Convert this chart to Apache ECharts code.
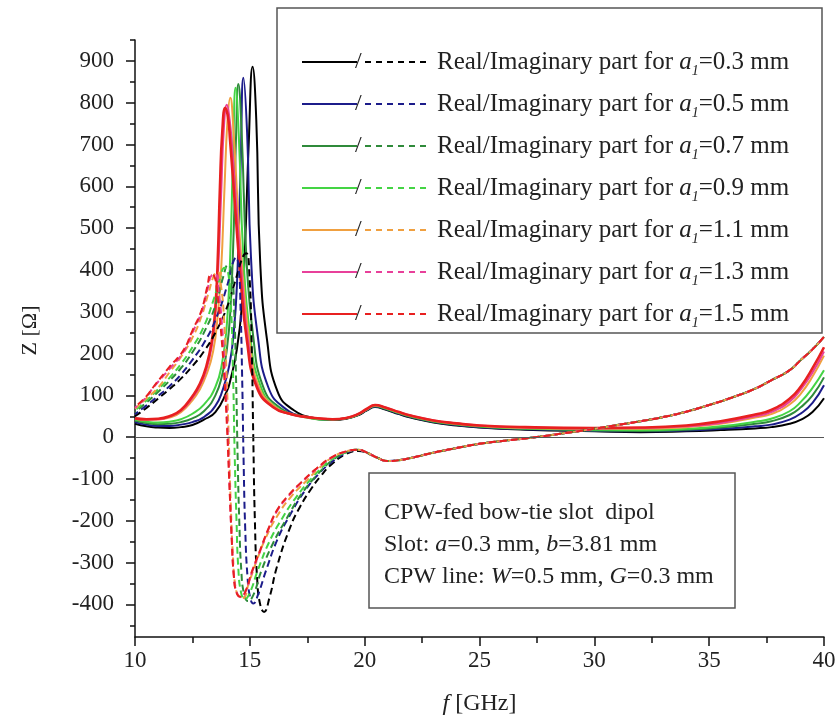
<!DOCTYPE html>
<html>
<head>
<meta charset="utf-8">
<script src="https://cdn.jsdelivr.net/npm/echarts@6/dist/echarts.min.js"></script>
<style>html,body{margin:0;padding:0;background:#fff}#c{width:840px;height:724px}</style>
</head>
<body>
<div id="c"></div>
<script>
// ---------- data ----------
const labels = ['0.3', '0.5', '0.7', '0.9', '1.1', '1.3', '1.5'];
const colors = ['#000000', '#1c1c8a', '#2f8a3a', '#44d444', '#f0a040', '#e8409a', '#e82020'];
const xTicks = [10, 15, 20, 25, 30, 35, 40];
const yTicks = [-400, -300, -200, -100, 0, 100, 200, 300, 400, 500, 600, 700, 800, 900];
const yMinorTicks = [-450, -350, -250, -150, -50, 50, 150, 250, 350, 450, 550, 650, 750, 850, 950];

// Real parts [f GHz, Z Ohm]
const re03 = [[10,32],[10.5,26],[11,23],[11.5,22],[12,24],[12.5,29],[13,42],[13.5,60],[14,110],[14.15,136],[14.43,208],[14.65,311],[14.8,470],[14.95,700],[15.12,886],[15.28,760],[15.45,420],[15.75,232],[16.2,110],[16.9,65],[17.9,45],[18.6,41],[19.2,44],[19.7,52],[20.1,64],[20.45,72],[20.9,66],[21.5,55],[22,47],[23,35],[24,28],[25,23],[27,18],[30,14],[32,12],[34,14],[35.5,17],[37,21],[37.7,24],[38.5,32],[39,42],[39.5,60],[40,93]];
const re05 = [[10,36],[10.5,30],[11,27],[11.5,27],[12,30],[12.5,36],[13,48],[13.5,75],[13.8,110],[14.1,170],[14.3,250],[14.45,380],[14.6,650],[14.72,860],[14.88,730],[15.05,430],[15.35,240],[15.8,120],[16.5,70],[17.5,48],[18.6,42],[19.2,45],[19.7,53],[20.1,65],[20.45,73],[20.9,67],[21.5,56],[22,48],[23,36],[24,29],[25,24],[27,19],[30,15],[32,14],[34,16],[35.5,20],[37,26],[37.7,30],[38.5,42],[39,57],[39.5,82],[40,124]];
const re07 = [[10,40],[10.5,34],[11,31],[11.5,32],[12,36],[12.5,45],[13,62],[13.5,100],[13.8,150],[14,210],[14.15,300],[14.3,500],[14.4,720],[14.5,845],[14.65,720],[14.85,430],[15.15,240],[15.55,125],[16.2,75],[17.3,50],[18.6,42],[19.2,45],[19.7,53],[20.1,66],[20.45,74],[20.9,68],[21.5,57],[22,49],[23,37],[24,30],[25,25],[27,20],[30,16],[32,15],[34,18],[35.5,23],[37,32],[37.7,38],[38.5,53],[39,72],[39.5,100],[40,143]];
const re09 = [[10,42],[10.5,37],[11,35],[11.5,37],[12,43],[12.5,56],[13,78],[13.5,120],[13.8,180],[14,270],[14.15,440],[14.28,700],[14.38,836],[14.52,720],[14.72,430],[15.02,240],[15.45,125],[16.1,74],[17.3,49],[18.6,42],[19.2,45],[19.7,54],[20.1,66],[20.45,75],[20.9,69],[21.5,58],[22,50],[23,38],[24,31],[25,26],[27,21],[30,18],[32,17],[34,20],[35.5,26],[37,37],[37.7,44],[38.5,62],[39,85],[39.5,118],[40,160]];
const re11 = [[10,44],[10.5,41],[11,42],[11.5,47],[12,60],[12.5,88],[12.8,112],[13.1,148],[13.4,205],[13.6,290],[13.75,400],[13.9,600],[14.03,760],[14.15,812],[14.28,740],[14.5,530],[14.72,370],[15,225],[15.4,120],[16.1,72],[16.8,55],[17.5,48],[18.6,43],[19.2,46],[19.7,54],[20.1,67],[20.45,76],[20.9,70],[21.5,59],[22,51],[23,39],[24,32],[25,27],[27,22],[30,20],[32,20],[34,24],[35.5,32],[37,47],[37.7,55],[38.5,78],[39,105],[39.5,145],[40,195]];
const re13 = [[10,45],[10.5,42],[11,43],[11.5,49],[12,63],[12.5,94],[12.8,120],[13.1,160],[13.35,220],[13.5,295],[13.62,400],[13.75,580],[13.87,740],[14,795],[14.12,760],[14.22,700],[14.43,540],[14.65,385],[14.93,228],[15.35,118],[16.05,71],[16.8,55],[17.5,48],[18.6,43],[19.2,46],[19.7,55],[20.1,67],[20.45,77],[20.9,71],[21.5,60],[22,52],[23,40],[24,33],[25,28],[27,23],[30,21],[32,22],[34,26],[35.5,34],[37,50],[37.7,60],[38.5,85],[39,115],[39.5,155],[40,205]];
const re15 = [[10,45],[10.5,43],[11,44],[11.5,50],[12,65],[12.5,98],[12.8,125],[13.1,168],[13.35,232],[13.5,311],[13.6,420],[13.7,600],[13.8,730],[13.93,788],[14.05,765],[14.14,710],[14.36,550],[14.58,392],[14.87,232],[15.3,120],[16,72],[16.8,55],[17.5,48],[18.6,43],[19.2,46],[19.7,55],[20.1,68],[20.45,77],[20.9,71],[21.5,60],[22,52],[23,40],[24,33],[25,28],[27,24],[30,22],[32,23],[34,28],[35.5,38],[37,54],[37.7,65],[38.5,92],[39,122],[39.5,165],[40,215]];

// Imaginary parts, resonance region [f GHz, Z Ohm]
const im03 = [[10,50],[10.5,70],[11,92],[11.5,115],[12,140],[12.5,170],[13,205],[13.5,250],[14,310],[14.4,380],[14.7,432],[14.85,440],[14.98,390],[15.08,220],[15.15,0],[15.22,-200],[15.32,-340],[15.45,-400],[15.62,-418],[15.85,-385],[16.18,-310],[16.76,-215],[17.2,-165],[17.63,-127],[18.1,-92],[18.6,-63],[19.2,-40],[19.75,-33],[20.1,-38],[20.5,-48]];
const im05 = [[10,55],[10.5,76],[11,98],[11.5,122],[12,150],[12.5,185],[13,225],[13.5,280],[14,360],[14.25,415],[14.4,430],[14.52,400],[14.6,300],[14.67,130],[14.73,-60],[14.8,-220],[14.9,-335],[15.02,-385],[15.15,-398],[15.35,-378],[15.7,-320],[16.2,-245],[16.76,-185],[17.4,-128],[18,-88],[18.6,-58],[19.2,-38],[19.7,-31],[20.1,-37],[20.5,-48]];
const im07 = [[10,60],[10.5,83],[11,108],[11.5,135],[12,165],[12.5,203],[13,250],[13.5,315],[13.85,385],[14.05,412],[14.2,400],[14.32,300],[14.4,140],[14.47,-50],[14.54,-200],[14.63,-320],[14.75,-375],[14.92,-392],[15.15,-378],[15.5,-320],[16,-255],[16.6,-195],[17.2,-140],[17.9,-92],[18.6,-55],[19.2,-36],[19.7,-30],[20.1,-37],[20.5,-48]];
const im09 = [[10,64],[10.5,88],[11,114],[11.5,142],[12,175],[12.5,215],[13,265],[13.4,325],[13.7,380],[13.9,405],[14.05,395],[14.18,310],[14.27,150],[14.34,-40],[14.42,-200],[14.5,-315],[14.62,-372],[14.78,-388],[15,-372],[15.35,-318],[15.85,-250],[16.4,-195],[17,-145],[17.7,-98],[18.5,-56],[19.2,-36],[19.7,-30],[20.1,-37],[20.5,-48]];
const im11 = [[10,68],[10.5,93],[11,118],[11.5,155],[12,192],[12.5,238],[12.9,290],[13.2,345],[13.45,388],[13.6,395],[13.75,360],[13.88,280],[13.98,160],[14.08,0],[14.17,-160],[14.27,-290],[14.38,-360],[14.52,-380],[14.7,-385],[14.95,-350],[15.3,-295],[15.7,-240],[16.2,-188],[16.8,-142],[17.4,-108],[18,-75],[18.6,-48],[19.2,-34],[19.7,-30],[20.1,-37],[20.5,-48]];
const im13 = [[10,70],[10.5,96],[10.8,119],[11.5,163],[12.1,203],[12.5,250],[12.9,300],[13.15,352],[13.35,388],[13.5,390],[13.65,345],[13.8,260],[13.92,150],[14.03,20],[14.12,-120],[14.22,-250],[14.33,-345],[14.46,-376],[14.62,-383],[14.82,-368],[15.1,-322],[15.45,-272],[15.8,-222],[16.18,-177],[16.7,-140],[17.2,-111],[17.9,-76],[18.6,-48],[19.2,-34],[19.7,-30],[20.1,-37],[20.5,-48]];
const im15 = [[10,72],[10.5,98],[10.8,120],[11.5,168],[12.1,207],[12.5,255],[12.9,304],[13.15,360],[13.3,388],[13.45,385],[13.6,335],[13.75,250],[13.88,150],[14,30],[14.1,-100],[14.2,-230],[14.3,-330],[14.42,-372],[14.6,-382],[14.8,-370],[15.1,-320],[15.45,-270],[15.8,-220],[16.18,-175],[16.7,-138],[17.2,-110],[17.9,-75],[18.6,-47],[19.2,-34],[19.7,-30],[20.1,-37],[20.5,-48]];
// Imaginary part above 21 GHz (all curves coincide)
const imTail = [[21,-57],[21.5,-55],[22,-50],[23,-37],[24,-26],[25,-16],[26,-9],[27,-3],[28,4],[29,12],[30,20],[31,29],[32,38],[33,48],[34,61],[35,77],[36,95],[37,116],[37.7,136],[38.5,160],[39,185],[39.5,210],[40,240]];

const realParts = [re03, re05, re07, re09, re11, re13, re15];
const imagParts = [im03, im05, im07, im09, im11, im13, im15];

// ---------- chart ----------
const SERIF = '"Liberation Serif", "Times New Roman", serif';
const TXT = '#222';
const chart = echarts.init(document.getElementById('c'), null, {renderer: 'canvas'});

const series = [];
realParts.forEach((d, i) => {
  series.push({
    name: 'Re ' + labels[i], type: 'line', data: d, showSymbol: false, symbol: 'none',
    smooth: 0.5, z: 2,
    lineStyle: {color: colors[i], width: i === 6 ? 2.6 : 2},
    markLine: i === 0 ? {silent: true, symbol: ['none', 'none'], label: {show: false},
      lineStyle: {color: '#555', width: 1.2, type: 'solid'}, data: [{yAxis: 0}]} : undefined
  });
});
imagParts.forEach((d, i) => {
  series.push({
    name: 'Im ' + labels[i], type: 'line', data: d.concat(imTail), showSymbol: false, symbol: 'none',
    smooth: 0.5, z: 3,
    lineStyle: {color: colors[i], width: 2, type: [7, 4], dashOffset: i * 3}
  });
});

const graphics = [];
const LX = 277, LY = 8, LW = 545, LH = 325;
graphics.push({type: 'rect', shape: {x: LX, y: LY, width: LW, height: LH},
  style: {fill: '#fff', stroke: '#555', lineWidth: 1.5}, z: 100});
labels.forEach((lab, i) => {
  const y = 62 + i * 42;
  graphics.push({type: 'line', shape: {x1: 302, y1: y, x2: 357, y2: y}, style: {stroke: colors[i], lineWidth: 2}, z: 101});
  graphics.push({type: 'text', x: 355, y: y, style: {text: '/', fontSize: 24, fontFamily: SERIF, fill: TXT, verticalAlign: 'middle'}, z: 101});
  graphics.push({type: 'line', shape: {x1: 365, y1: y, x2: 430, y2: y}, style: {stroke: colors[i], lineWidth: 2, lineDash: [6, 5]}, z: 101});
  graphics.push({type: 'text', x: 437, y: y, z: 101, style: {
    text: 'Real/Imaginary part for {i|a}{s|1}=' + lab + ' mm',
    fontSize: 25, fontFamily: SERIF, fill: TXT, verticalAlign: 'middle',
    rich: {i: {fontStyle: 'italic', fontSize: 25, fontFamily: SERIF, fill: TXT},
           s: {fontStyle: 'italic', fontSize: 14, fontFamily: SERIF, fill: TXT, padding: [18, 0, 0, 0]}}
  }});
});
graphics.push({type: 'rect', shape: {x: 369, y: 473, width: 366, height: 135},
  style: {fill: '#fff', stroke: '#555', lineWidth: 1.5}, z: 100});
const noteLines = ['CPW-fed bow-tie slot  dipol', 'Slot: {i|a}=0.3 mm, {i|b}=3.81 mm', 'CPW line: {i|W}=0.5 mm, {i|G}=0.3 mm'];
noteLines.forEach((t, k) => {
  graphics.push({type: 'text', x: 384, y: 513 + k * 32, z: 101, style: {
    text: t, fontSize: 24, fontFamily: SERIF, fill: TXT, verticalAlign: 'middle',
    rich: {i: {fontStyle: 'italic', fontSize: 24, fontFamily: SERIF, fill: TXT}}
  }});
});

const axisLineStyle = {color: '#111', width: 1.5};
const option = {
  animation: false,
  backgroundColor: '#ffffff',
  grid: {left: 135, right: 16, top: 40, bottom: 87, containLabel: false},
  xAxis: {
    type: 'value', min: 10, max: 40, interval: 5,
    axisLine: {show: true, onZero: false, lineStyle: axisLineStyle},
    axisTick: {show: true, inside: false, length: 9, lineStyle: axisLineStyle},
    minorTick: {show: true, splitNumber: 2, length: 6, lineStyle: axisLineStyle},
    splitLine: {show: false}, minorSplitLine: {show: false},
    axisLabel: {fontFamily: SERIF, fontSize: 23, color: TXT, margin: 12, customValues: xTicks},
    name: '{i|f} [GHz]', nameLocation: 'middle', nameGap: 55,
    nameTextStyle: {fontFamily: SERIF, fontSize: 24, color: TXT,
      rich: {i: {fontStyle: 'italic', fontFamily: SERIF, fontSize: 24, color: TXT}}}
  },
  yAxis: [{
    type: 'value', min: -478, max: 950,
    axisLine: {show: true, onZero: false, lineStyle: axisLineStyle},
    axisTick: {show: true, inside: false, length: 9, lineStyle: axisLineStyle, customValues: yTicks},
    splitLine: {show: false},
    axisLabel: {fontFamily: SERIF, fontSize: 23, color: TXT, margin: 21, customValues: yTicks},
    name: 'Z [Ω]', nameLocation: 'middle', nameRotate: 90, nameGap: 94,
    nameTextStyle: {fontFamily: SERIF, fontSize: 22, color: TXT, padding: [0, 0, 0, 16]}
  }, {
    type: 'value', min: -478, max: 950, position: 'left',
    axisLine: {show: false},
    axisTick: {show: true, inside: false, length: 5, lineStyle: axisLineStyle, customValues: yMinorTicks},
    axisLabel: {show: false}, splitLine: {show: false}
  }],
  series: series,
  graphic: graphics
};
chart.setOption(option);
</script>
</body>
</html>
